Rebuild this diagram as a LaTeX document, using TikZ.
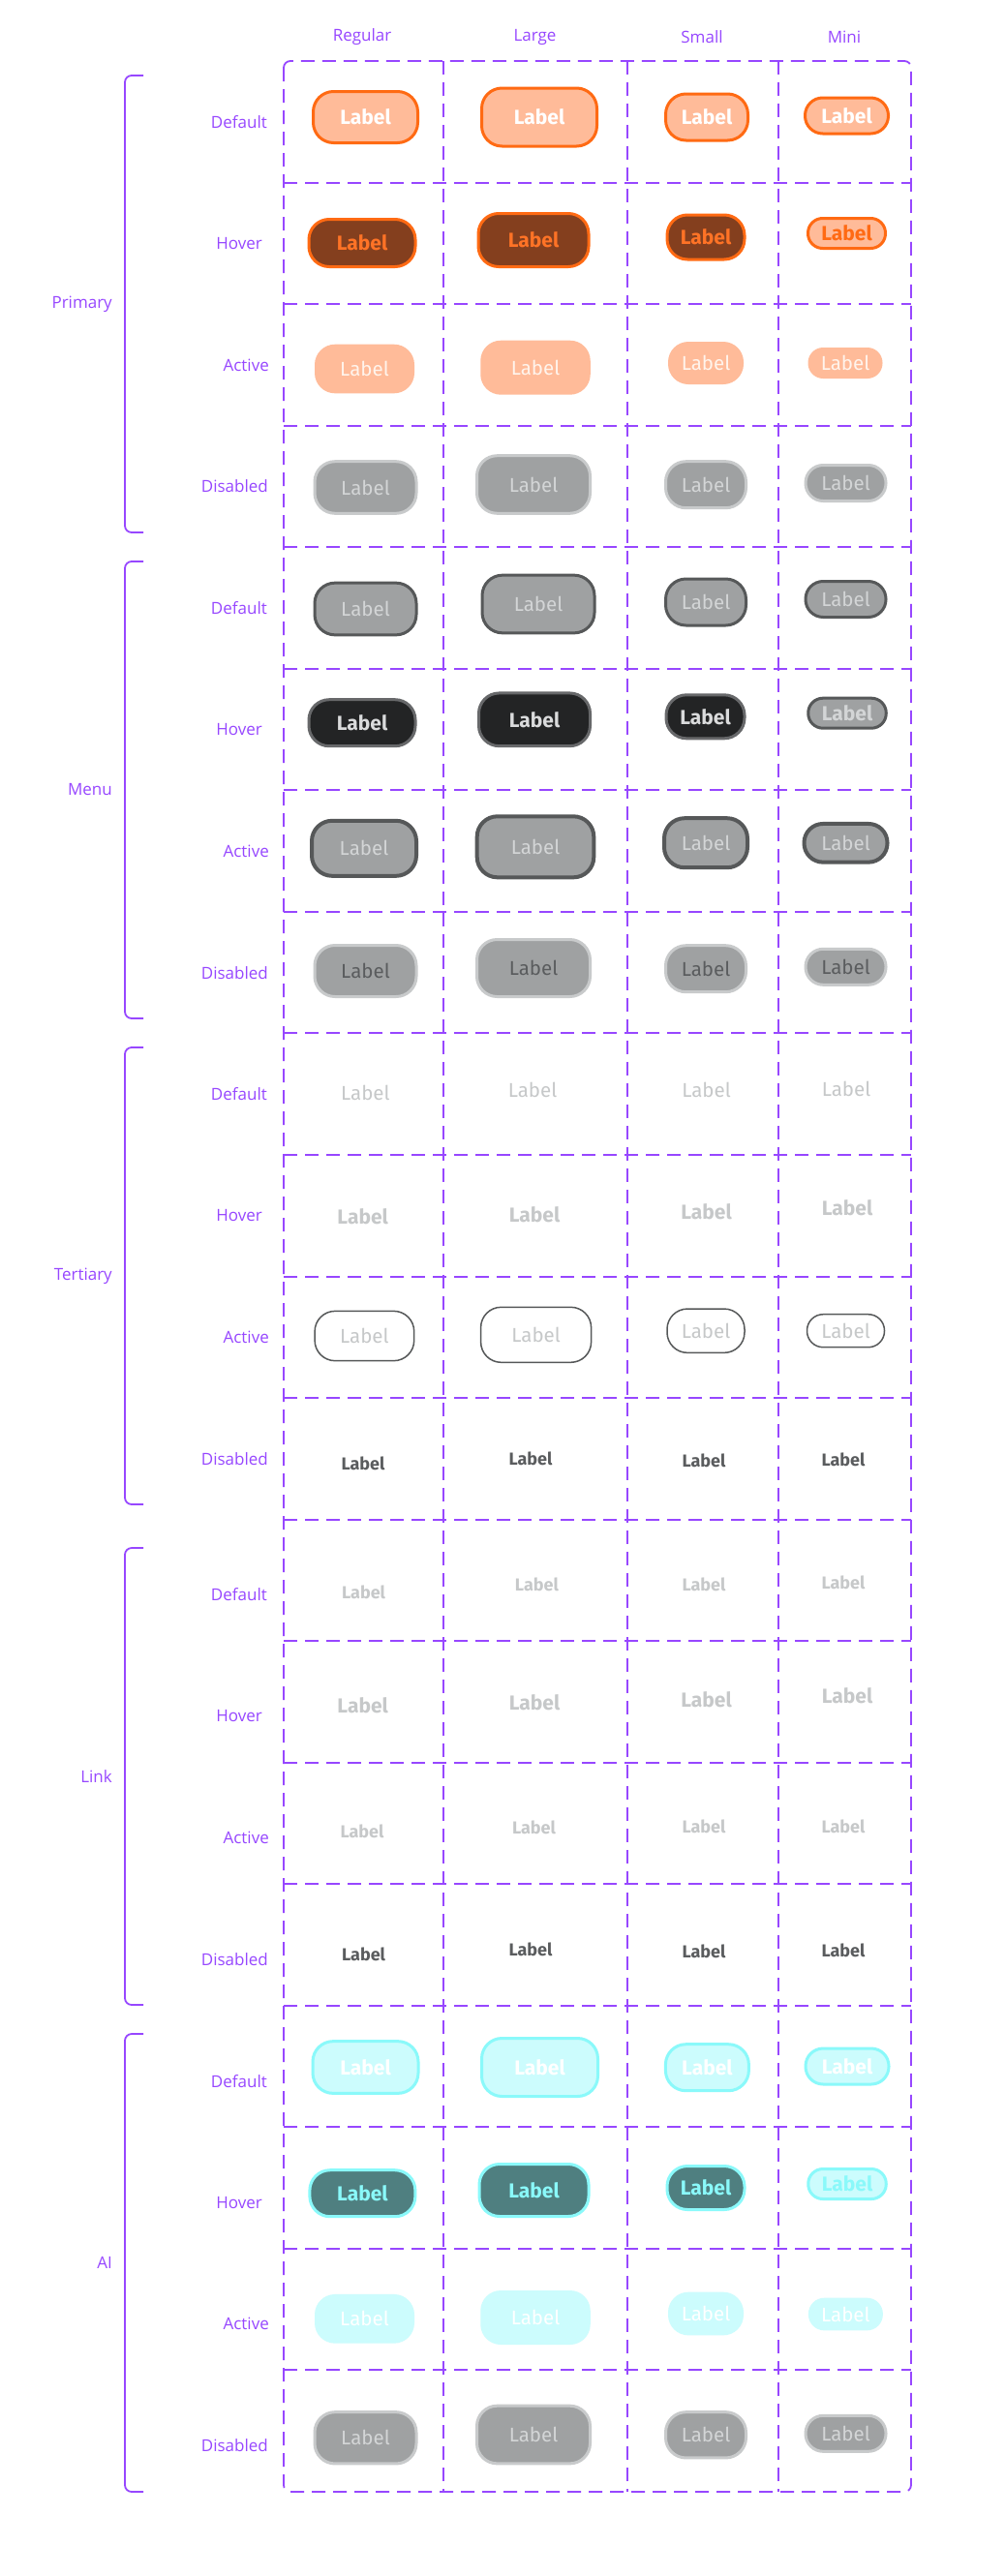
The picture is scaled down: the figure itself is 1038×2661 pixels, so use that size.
\documentclass[tikz,border=0pt]{standalone}
\usepackage{fontspec}
\newfontfamily\uifont{Open Sans}
\newfontfamily\labfont{Fira Sans}
\definecolor{purp}{HTML}{9747FF}
\definecolor{peach}{HTML}{FFBB99}
\definecolor{orng}{HTML}{FF6A13}
\definecolor{orngT}{HTML}{FF7326}
\definecolor{brown}{HTML}{843F1E}
\definecolor{cream}{HTML}{FFF4EC}
\definecolor{gfill}{HTML}{9FA1A2}
\definecolor{gbord}{HTML}{C8CACB}
\definecolor{gtext}{HTML}{D3D5D6}
\definecolor{dbord}{HTML}{565859}
\definecolor{hfill}{HTML}{232425}
\definecolor{hbord}{HTML}{67686A}
\definecolor{htext}{HTML}{DADBDC}
\definecolor{dtext}{HTML}{5A5C5E}
\definecolor{tlight}{HTML}{C6C8C9}
\definecolor{cyanl}{HTML}{CCFCFD}
\definecolor{cyanb}{HTML}{8AF9FA}
\definecolor{teal}{HTML}{4F7F80}
\tikzset{
  grid/.style={draw=purp, line width=1.8pt, dash pattern=on 14pt off 8pt},
  brk/.style={draw=purp, line width=1.8pt, rounded corners=7pt},
  lab/.style={text=purp, inner sep=0pt, font=\uifont\fontsize{17}{20}\selectfont},
  reg/.style={font=\labfont\fontsize{20.5}{24}\selectfont},
  bld/.style={font=\labfont\bfseries\fontsize{21}{24}\selectfont},
  sbld/.style={font=\labfont\bfseries\fontsize{18}{22}\selectfont},
  btn/.style={rectangle, inner sep=0pt},
  tlab/.style={inner sep=0pt},
  pdef/.style={fill=peach, draw=orng, line width=3pt, text=white, bld},
  phov/.style={fill=brown, draw=orng, line width=3pt, text=orngT, bld},
  pmhov/.style={fill=peach, draw=orng, line width=3pt, text=orng, bld},
  pact/.style={fill=peach, text=cream, reg},
  dis/.style={fill=gfill, draw=gbord, line width=3pt, text=gtext, reg},
  mdef/.style={fill=gfill, draw=dbord, line width=3pt, text=gtext, reg},
  mhov/.style={fill=hfill, draw=hbord, line width=3pt, text=htext, bld},
  mmhov/.style={fill=gfill, draw=dbord, line width=3pt, text=gtext, bld},
  mact/.style={fill=gfill, draw=dbord, line width=4pt, text=gtext, reg},
  mdis/.style={fill=gfill, draw=gbord, line width=3pt, text=dtext, reg},
  tact/.style={draw=dbord, line width=1.5pt, text=tlight, reg},
  adef/.style={fill=cyanl, draw=cyanb, line width=3pt, text=white, bld},
  ahov/.style={fill=teal, draw=cyanb, line width=3pt, text=cyanb, bld},
  amhov/.style={fill=cyanl, draw=cyanb, line width=3pt, text=cyanb, bld},
  aact/.style={fill=cyanl, text=white, reg},
  tdefl/.style={text=tlight, reg},
  thovl/.style={text=tlight, bld},
  tsml/.style={text=tlight, sbld},
  tsmd/.style={text=dtext, sbld},
}
\newcommand{\btn}[6]{%
  \pgfmathsetmacro{\bw}{#4-2}%
  \pgfmathsetmacro{\bh}{#5-2}%
  \pgfmathsetmacro{\br}{min(21,\bh/2-0.3)}%
  \node[btn,#6,minimum width=\bw pt,minimum height=\bh pt,rounded corners=\br pt] (#1) at (#2,#3) {Label};}
\newcommand{\txt}[4]{\node[tlab,#4] (#1) at (#2,#3) {Label};}
\begin{document}
\begin{tikzpicture}[x=1pt,y=-1pt]
\useasboundingbox[fill=white] (0,0) rectangle (1038,2661);
% grid
\draw[grid, rounded corners=7pt] (293,63) rectangle (941,2574);
\foreach \xx in {458,648,804} {\draw[grid] (\xx,63) -- (\xx,2574);}
\foreach \i in {1,...,19} {\pgfmathsetmacro{\yy}{round(63+\i*125.55)}\draw[grid] (293,\yy) -- (941,\yy);}
% headers
\node[lab] (hreg) at (374,38) {Regular};
\node[lab] (hlar) at (552.5,38) {Large};
\node[lab] (hsma) at (725,38) {Small};
\node[lab] (hmin) at (872,38) {Mini};
% state labels
\foreach \g/\s in {0/0,1/0,2/0,3/15,4/15} {
  \foreach \k/\t/\xr in {1/Default/276,2/Hover/271,3/Active/278,4/Disabled/277} {
    \pgfmathsetmacro{\yy}{63+(4*\g+\k-0.5)*125.55+\s}
    \node[lab,anchor=east] (st\g\k) at (\xr,\yy) {\t};
  }
}
% brackets and group labels
\foreach \a/\b/\n/\gn in {78/550/Primary/gp,580/1052/Menu/gm,1082/1554/Tertiary/gt,1599/2071/Link/gl,2101/2574/AI/ga} {
  \coordinate (\gn top) at (148,\a);
  \coordinate (\gn bot) at (148,\b);
  \draw[brk] (\gn top) -| (129,\b) -- (\gn bot);
  \pgfmathsetmacro{\ym}{(\a+\b)/2}
  \node[lab,anchor=east] (\gn) at (116,\ym) {\n};
}
% Primary
\btn{p1r}{377.5}{121}{110}{55}{pdef}
\btn{p1l}{557}{121}{121}{62}{pdef}
\btn{p1s}{730}{121}{87}{50}{pdef}
\btn{p1m}{874.5}{119.5}{88}{39}{pdef}
\btn{p2r}{374}{251}{112}{51}{phov}
\btn{p2l}{551}{248}{116}{57}{phov}
\btn{p2s}{729}{245}{82}{48}{phov}
\btn{p2m}{874.5}{241}{82}{33}{pmhov}
\btn{p3r}{376.5}{381}{105}{52.6}{pact}
\btn{p3l}{553}{379.7}{115.5}{58}{pact}
\btn{p3s}{729}{375}{80}{46}{pact}
\btn{p3m}{873}{375}{79}{34}{pact}
\btn{p4r}{377.5}{503.5}{107}{55.6}{dis}
\btn{p4l}{551}{500.5}{119}{61.6}{dis}
\btn{p4s}{729}{500.7}{85}{50}{dis}
\btn{p4m}{873.5}{499}{85}{39}{dis}
% Menu
\btn{m1r}{377.5}{629}{107}{55.7}{mdef}
\btn{m1l}{556}{624}{118}{61.7}{mdef}
\btn{m1s}{729}{622}{85}{50}{mdef}
\btn{m1m}{873.5}{619}{85}{39}{mdef}
\btn{m2r}{374}{746.7}{112}{50}{mhov}
\btn{m2l}{552}{743.3}{117}{56.7}{mhov}
\btn{m2s}{728.5}{740.3}{83}{47}{mhov}
\btn{m2m}{875}{736.7}{82.5}{33}{mmhov}
\btn{m3r}{376}{876.3}{110}{59}{mact}
\btn{m3l}{553}{874.8}{122.6}{65}{mact}
\btn{m3s}{729}{870.7}{88}{53}{mact}
\btn{m3m}{873.5}{870.8}{88}{41.7}{mact}
\btn{m4r}{377.5}{1003}{107}{55}{mdis}
\btn{m4l}{551}{1000}{119}{61}{mdis}
\btn{m4s}{729}{1000.7}{85}{50}{mdis}
\btn{m4m}{873.5}{998.8}{85}{39}{mdis}
% Tertiary
\txt{t1r}{377.4}{1129.3}{tdefl}
\txt{t1l}{550}{1126}{tdefl}
\txt{t1s}{729.5}{1126}{tdefl}
\txt{t1m}{874}{1125}{tdefl}
\txt{t2r}{374.7}{1257}{thovl}
\txt{t2l}{552}{1254.3}{thovl}
\txt{t2s}{729.5}{1251.7}{thovl}
\txt{t2m}{875}{1247.7}{thovl}
\btn{t3r}{376.4}{1380}{104.6}{53.3}{tact}
\btn{t3l}{553.6}{1378.8}{116}{59}{tact}
\btn{t3s}{729}{1374.7}{82}{47.3}{tact}
\btn{t3m}{873.5}{1374.7}{82}{36}{tact}
\txt{t4r}{375}{1511.7}{tsmd}
\txt{t4l}{548}{1507}{tsmd}
\txt{t4s}{727}{1508.7}{tsmd}
\txt{t4m}{871}{1507.7}{tsmd}
% Link
\txt{l1r}{375.6}{1644.7}{tsml}
\txt{l1l}{554.4}{1637}{tsml}
\txt{l1s}{727}{1637.3}{tsml}
\txt{l1m}{871}{1634.7}{tsml}
\txt{l2r}{374.7}{1761.3}{thovl}
\txt{l2l}{552}{1758.7}{thovl}
\txt{l2s}{729.5}{1755.7}{thovl}
\txt{l2m}{875}{1751.3}{thovl}
\txt{l3r}{374}{1891.3}{tsml}
\txt{l3l}{551.5}{1888}{tsml}
\txt{l3s}{727}{1886.3}{tsml}
\txt{l3m}{871}{1886.3}{tsml}
\txt{l4r}{375.6}{2018.7}{tsmd}
\txt{l4l}{548}{2013.7}{tsmd}
\txt{l4s}{727}{2015.7}{tsmd}
\txt{l4m}{871}{2014.7}{tsmd}
% AI
\btn{a1r}{377.5}{2135.5}{111}{55.7}{adef}
\btn{a1l}{557.5}{2135.5}{122}{62}{adef}
\btn{a1s}{730.4}{2135.7}{88}{50}{adef}
\btn{a1m}{875}{2134.5}{88}{39}{adef}
\btn{a2r}{374.4}{2265.7}{111}{50}{ahov}
\btn{a2l}{551.5}{2262.5}{115}{56}{ahov}
\btn{a2s}{729}{2260}{82}{47}{ahov}
\btn{a2m}{875}{2256}{82.5}{33}{amhov}
\btn{a3r}{376.5}{2395.3}{105}{52.7}{aact}
\btn{a3l}{553}{2394}{115.5}{58}{aact}
\btn{a3s}{729}{2390}{80}{46.7}{aact}
\btn{a3m}{873.4}{2390.5}{79}{35.7}{aact}
\btn{a4r}{377.5}{2518.3}{107}{55.3}{dis}
\btn{a4l}{551}{2515}{119}{61.7}{dis}
\btn{a4s}{729}{2515.3}{85}{49.3}{dis}
\btn{a4m}{873.5}{2513.8}{85}{39}{dis}
\end{tikzpicture}
\end{document}
